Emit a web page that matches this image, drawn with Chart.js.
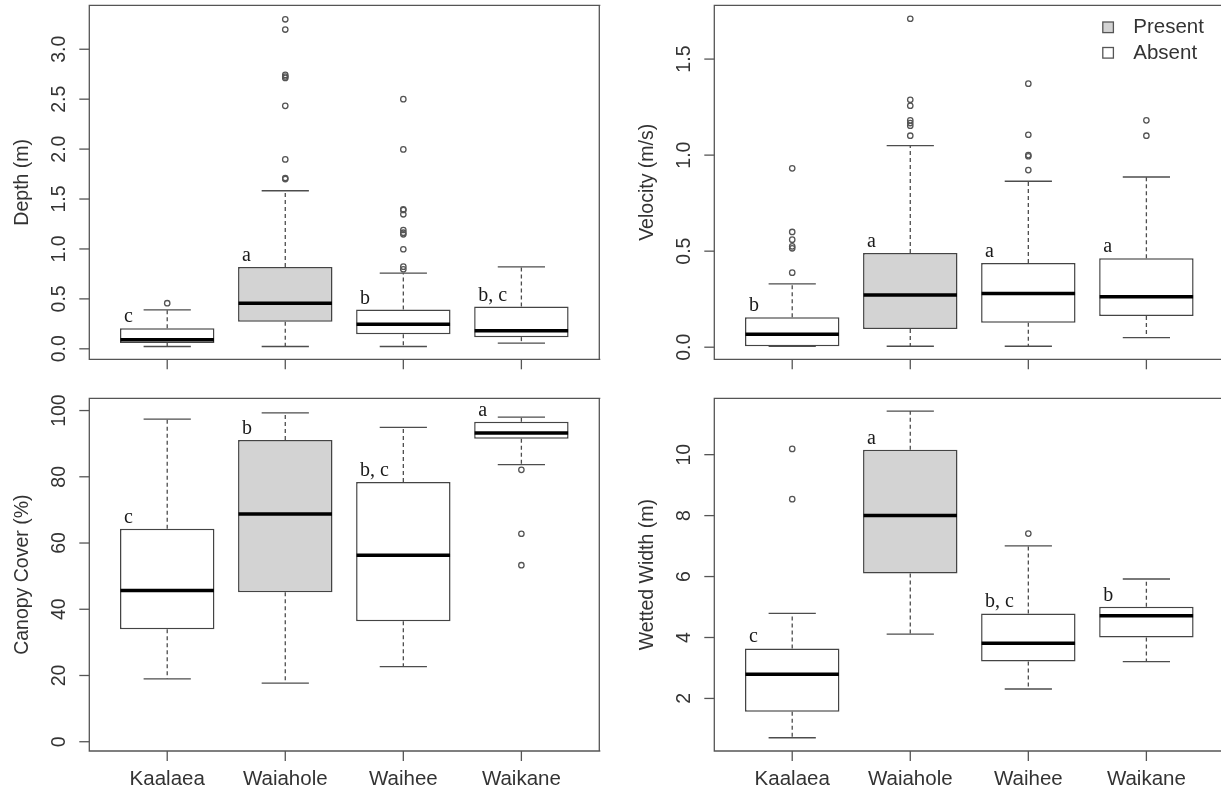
<!DOCTYPE html>
<html>
<head>
<meta charset="utf-8">
<script src="https://cdn.jsdelivr.net/npm/chart.js@4"></script>
<style>
  html, body { margin: 0; padding: 0; background: #ffffff; }
  html { overflow: hidden; }
  body { width: 1221px; height: 792px; overflow: hidden; position: relative; }
  .panel { position: absolute; overflow: hidden; }
  canvas { display: block; }
</style>
</head>
<body>
<div class="panel" style="left:0px;top:0px;width:610px;height:385px;"><canvas id="depthChart" width="610" height="385"></canvas></div>
<div class="panel" style="left:610px;top:0px;width:611px;height:385px;"><canvas id="velocityChart" width="620" height="385"></canvas></div>
<div class="panel" style="left:0px;top:385px;width:610px;height:407px;"><canvas id="canopyChart" width="610" height="407"></canvas></div>
<div class="panel" style="left:610px;top:385px;width:611px;height:407px;"><canvas id="widthChart" width="620" height="407"></canvas></div>
<script>
// ---------------- DATA ----------------
const categories = ['Kaalaea', 'Waiahole', 'Waihee', 'Waikane'];
const fishPresent = [false, true, false, false];
const legendLabels = ['Present', 'Absent'];

// Depth (m)
const depthTitle = 'Depth (m)';
const depthTicks = [0, 0.5, 1.0, 1.5, 2.0, 2.5, 3.0];
const depthLower = [0.023, 0.023, 0.023, 0.057];
const depthQ1 = [0.057, 0.27, 0.147, 0.117];
const depthMedian = [0.09, 0.457, 0.247, 0.18];
const depthQ3 = [0.207, 0.82, 0.393, 0.423];
const depthUpper = [0.39, 1.583, 0.757, 0.82];
const depthOutliers = [
  [0.457],
  [1.70, 1.71, 1.897, 2.433, 2.713, 2.727, 2.743, 3.197, 3.30],
  [0.797, 0.823, 0.997, 1.147, 1.163, 1.19, 1.347, 1.39, 1.397, 1.997, 2.5],
  []
];
const depthLetters = ['c', 'a', 'b', 'b, c'];

// Velocity (m/s)
const velocityTitle = 'Velocity (m/s)';
const velocityTicks = [0, 0.5, 1.0, 1.5];
const velocityLower = [0.005, 0.005, 0.005, 0.05];
const velocityQ1 = [0.005, 0.095, 0.127, 0.163];
const velocityMedian = [0.068, 0.272, 0.279, 0.262];
const velocityQ3 = [0.156, 0.49, 0.439, 0.463];
const velocityUpper = [0.33, 1.049, 0.864, 0.886];
const velocityOutliers = [
  [0.388, 0.515, 0.525, 0.56, 0.60, 0.931],
  [1.101, 1.153, 1.167, 1.181, 1.257, 1.288, 1.71],
  [0.922, 0.994, 1.0, 1.106, 1.372],
  [1.101, 1.181]
];
const velocityLetters = ['b', 'a', 'a', 'a'];

// Canopy Cover (%)
const canopyTitle = 'Canopy Cover (%)';
const canopyTicks = [0, 20, 40, 60, 80, 100];
const canopyLower = [19.0, 17.7, 22.7, 83.7];
const canopyQ1 = [34.0, 45.1, 36.4, 91.5];
const canopyMedian = [45.7, 68.8, 56.3, 93.2];
const canopyQ3 = [64.3, 91.1, 78.4, 96.6];
const canopyUpper = [97.4, 99.3, 94.9, 98.0];
const canopyOutliers = [[], [], [], [82.1, 62.8, 53.3]];
const canopyLetters = ['c', 'b', 'b, c', 'a'];

// Wetted Width (m)
const widthTitle = 'Wetted Width (m)';
const widthTicks = [2, 4, 6, 8, 10];
const widthLower = [0.71, 4.11, 2.31, 3.21];
const widthQ1 = [1.563, 6.10, 3.21, 4.0];
const widthMedian = [2.79, 8.0, 3.81, 4.71];
const widthQ3 = [3.64, 10.16, 4.79, 5.01];
const widthUpper = [4.79, 11.43, 7.01, 5.92];
const widthOutliers = [[8.54, 10.19], [], [7.41], []];
const widthLetters = ['c', 'a', 'b, c', 'b'];

// ---------------- STYLE ----------------
const SANS = '"Liberation Sans", Arial, sans-serif';
const SERIF = '"Liberation Serif", "Times New Roman", serif';
const TEXT_COLOR = '#333333';
const LINE_COLOR = '#4d4d4d';
const PRESENT_FILL = '#d3d3d3';
const ABSENT_FILL = '#ffffff';

function line(ctx, x1, y1, x2, y2) {
  ctx.beginPath(); ctx.moveTo(x1, y1); ctx.lineTo(x2, y2); ctx.stroke();
}

function rPanelPlugin(spec) {
  return {
    id: 'rPanel',
    afterDatasetsDraw(chart) {
      const ctx = chart.ctx, xs = chart.scales.x, ys = chart.scales.y;
      const u = xs.getPixelForValue(2) - xs.getPixelForValue(1);
      ctx.save();
      categories.forEach((c, i) => {
        const cx = xs.getPixelForValue(i + 1);
        const yLo = ys.getPixelForValue(spec.lower[i]);
        const yQ1 = ys.getPixelForValue(spec.q1[i]);
        const yMed = ys.getPixelForValue(spec.median[i]);
        const yQ3 = ys.getPixelForValue(spec.q3[i]);
        const yHi = ys.getPixelForValue(spec.upper[i]);
        ctx.strokeStyle = LINE_COLOR; ctx.lineWidth = 1.3;
        ctx.setLineDash([4, 3]);
        if (yHi < yQ3) line(ctx, cx, yQ3, cx, yHi);
        if (yLo > yQ1) line(ctx, cx, yQ1, cx, yLo);
        ctx.setLineDash([]);
        line(ctx, cx - 0.2 * u, yHi, cx + 0.2 * u, yHi);
        line(ctx, cx - 0.2 * u, yLo, cx + 0.2 * u, yLo);
        ctx.strokeStyle = '#000000'; ctx.lineWidth = 3.5;
        line(ctx, cx - 0.4 * u + 0.5, yMed, cx + 0.4 * u - 0.5, yMed);
        ctx.fillStyle = '#1a1a1a';
        ctx.font = '20px ' + SERIF;
        ctx.textAlign = 'left'; ctx.textBaseline = 'alphabetic';
        ctx.fillText(spec.letters[i], cx - 0.4 * u + 4, yQ3 - 6);
      });
      ctx.restore();
    },
    afterDraw(chart) {
      const ctx = chart.ctx, xs = chart.scales.x, ys = chart.scales.y;
      const a = chart.chartArea;
      ctx.save();
      // frame (right edge of the right-hand panels lies outside the picture)
      ctx.strokeStyle = '#555555'; ctx.lineWidth = 1.3;
      ctx.beginPath();
      ctx.moveTo(a.right + 1, a.top);
      ctx.lineTo(a.left, a.top);
      ctx.lineTo(a.left, a.bottom);
      ctx.lineTo(a.right + 1, a.bottom);
      ctx.stroke();
      if (spec.rightEdge) line(ctx, a.right, a.top, a.right, a.bottom);
      // y ticks
      ctx.fillStyle = TEXT_COLOR;
      ctx.font = '19.5px ' + SANS;
      spec.ticks.forEach(t => {
        const y = ys.getPixelForValue(t);
        line(ctx, a.left - 10, y, a.left, y);
        ctx.save();
        ctx.translate(a.left - 30, y);
        ctx.rotate(-Math.PI / 2);
        ctx.textAlign = 'center'; ctx.textBaseline = 'middle';
        ctx.fillText(t.toFixed(spec.decimals), 0, 0);
        ctx.restore();
      });
      // y title
      ctx.save();
      ctx.translate(a.left - 67, (a.top + a.bottom) / 2);
      ctx.rotate(-Math.PI / 2);
      ctx.textAlign = 'center'; ctx.textBaseline = 'middle';
      ctx.font = '19.5px ' + SANS;
      ctx.fillText(spec.title, 0, 0);
      ctx.restore();
      // x ticks + labels
      ctx.font = '20.5px ' + SANS;
      categories.forEach((c, i) => {
        const x = xs.getPixelForValue(i + 1);
        line(ctx, x, a.bottom, x, a.bottom + 10);
        if (spec.showXLabels) {
          ctx.textAlign = 'center'; ctx.textBaseline = 'middle';
          ctx.fillText(c, x, a.bottom + 28);
        }
      });
      // legend
      if (spec.legend) {
        const fills = [PRESENT_FILL, ABSENT_FILL];
        legendLabels.forEach((lab, k) => {
          const cy = a.top + 22 + k * 25.5;
          const sx = a.right - 121.5;
          ctx.fillStyle = fills[k];
          ctx.fillRect(sx, cy - 5.3, 10.6, 10.6);
          ctx.strokeStyle = '#555555'; ctx.lineWidth = 1.3;
          ctx.strokeRect(sx, cy - 5.3, 10.6, 10.6);
          ctx.fillStyle = TEXT_COLOR;
          ctx.font = '20.5px ' + SANS;
          ctx.textAlign = 'left'; ctx.textBaseline = 'middle';
          ctx.fillText(lab, a.right - 91, cy + 0.5);
        });
      }
      ctx.restore();
    }
  };
}

function makePanel(canvasId, spec) {
  const boxes = categories.map((c, i) => ({ x: i + 1, y: [spec.q1[i], spec.q3[i]] }));
  const outliers = spec.outliers.flatMap((arr, i) => arr.map(v => ({ x: i + 1, y: v })));
  return new Chart(document.getElementById(canvasId), {
    type: 'bar',
    data: {
      datasets: [
        {
          type: 'bar',
          label: 'Interquartile range',
          data: boxes,
          backgroundColor: fishPresent.map(p => p ? PRESENT_FILL : ABSENT_FILL),
          borderColor: '#444444',
          borderWidth: 1.5,
          borderSkipped: false,
          barPercentage: 0.8,
          categoryPercentage: 1.0,
          grouped: false
        },
        {
          type: 'scatter',
          label: 'Outliers',
          data: outliers,
          showLine: false,
          pointStyle: 'circle',
          pointRadius: 2.7,
          pointBorderWidth: 1.3,
          borderColor: '#555555',
          backgroundColor: 'rgba(0,0,0,0)',
          pointBackgroundColor: 'rgba(0,0,0,0)',
          pointBorderColor: '#555555'
        }
      ]
    },
    options: {
      responsive: false,
      animation: false,
      events: [],
      layout: { padding: spec.padding },
      plugins: { legend: { display: false }, tooltip: { enabled: false } },
      scales: {
        x: {
          type: 'linear', min: 0.34, max: 4.66, display: false, offset: false, grace: 0,
          afterBuildTicks: (scale) => { scale.ticks = categories.map((c, i) => ({ value: i + 1 })); }
        },
        y: { type: 'linear', min: spec.yMin, max: spec.yMax, display: false, offset: false }
      }
    },
    plugins: [rPanelPlugin(spec)]
  });
}

makePanel('depthChart', {
  title: depthTitle, ticks: depthTicks, decimals: 1,
  lower: depthLower, q1: depthQ1, median: depthMedian, q3: depthQ3, upper: depthUpper,
  outliers: depthOutliers, letters: depthLetters,
  yMin: -0.105, yMax: 3.44, showXLabels: false, legend: false, rightEdge: true,
  padding: { left: 89.3, top: 5, right: 10.7, bottom: 25.7 }
});
makePanel('velocityChart', {
  title: velocityTitle, ticks: velocityTicks, decimals: 1,
  lower: velocityLower, q1: velocityQ1, median: velocityMedian, q3: velocityQ3, upper: velocityUpper,
  outliers: velocityOutliers, letters: velocityLetters,
  yMin: -0.063, yMax: 1.78, showXLabels: false, legend: true, rightEdge: false,
  padding: { left: 104.3, top: 5, right: 5.7, bottom: 25.7 }
});
makePanel('canopyChart', {
  title: canopyTitle, ticks: canopyTicks, decimals: 0,
  lower: canopyLower, q1: canopyQ1, median: canopyMedian, q3: canopyQ3, upper: canopyUpper,
  outliers: canopyOutliers, letters: canopyLetters,
  yMin: -2.8, yMax: 103.7, showXLabels: true, legend: false, rightEdge: true,
  padding: { left: 89.3, top: 13.3, right: 10.7, bottom: 41 }
});
makePanel('widthChart', {
  title: widthTitle, ticks: widthTicks, decimals: 0,
  lower: widthLower, q1: widthQ1, median: widthMedian, q3: widthQ3, upper: widthUpper,
  outliers: widthOutliers, letters: widthLetters,
  yMin: 0.275, yMax: 11.85, showXLabels: true, legend: false, rightEdge: false,
  padding: { left: 104.3, top: 13.3, right: 5.7, bottom: 41 }
});
</script>
</body>
</html>
